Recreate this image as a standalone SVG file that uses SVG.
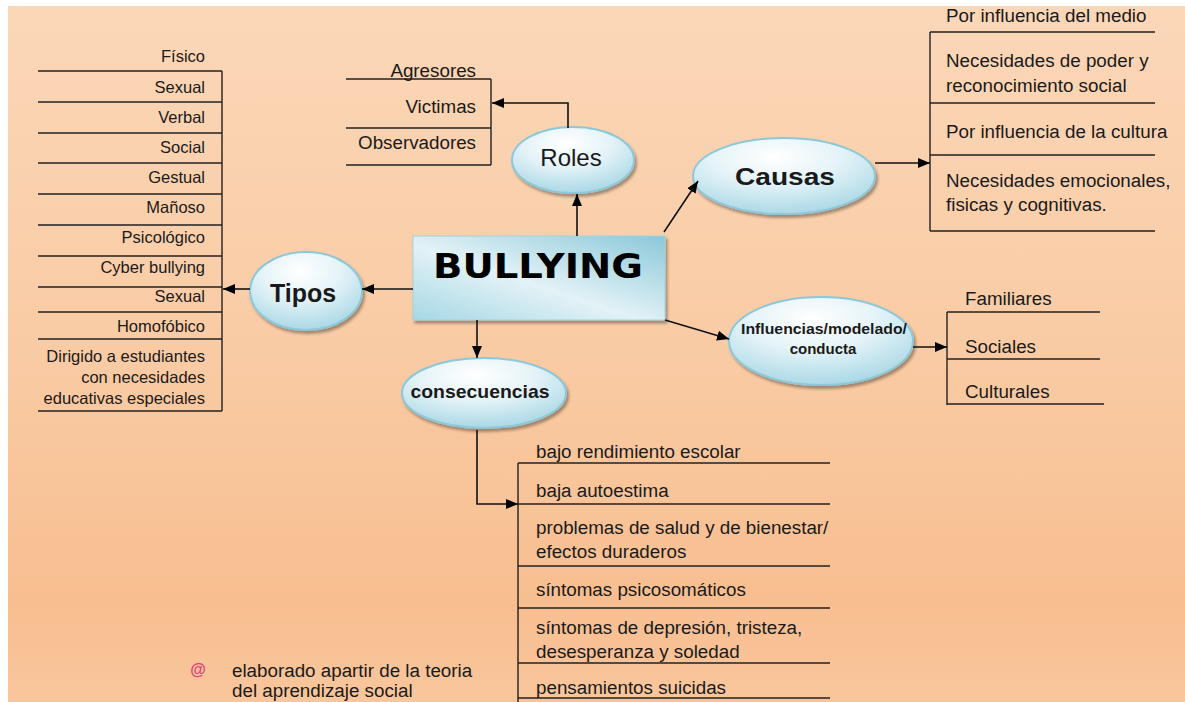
<svg xmlns="http://www.w3.org/2000/svg" width="1185" height="702" viewBox="0 0 1185 702">
<defs>
<linearGradient id="bg" x1="0" y1="0" x2="0" y2="1">
<stop offset="0" stop-color="#FBD7B8"/>
<stop offset="0.5" stop-color="#F9CBA4"/>
<stop offset="0.86" stop-color="#F8BE90"/>
<stop offset="1" stop-color="#F9C69C"/>
</linearGradient>
<radialGradient id="ell" cx="0.45" cy="0.25" r="0.8">
<stop offset="0" stop-color="#FFFFFF"/>
<stop offset="0.45" stop-color="#E4F3F8"/>
<stop offset="1" stop-color="#A3D5E3"/>
</radialGradient>
<linearGradient id="box" x1="1" y1="0" x2="0" y2="1">
<stop offset="0" stop-color="#8BC8D9"/>
<stop offset="0.55" stop-color="#E3F2F6"/>
<stop offset="1" stop-color="#A6D8E5"/>
</linearGradient>
<filter id="sh" x="-20%" y="-20%" width="150%" height="160%">
<feGaussianBlur in="SourceAlpha" stdDeviation="1.5"/>
<feOffset dx="2" dy="3" result="o"/>
<feComponentTransfer><feFuncA type="linear" slope="0.35"/></feComponentTransfer>
<feMerge><feMergeNode/><feMergeNode in="SourceGraphic"/></feMerge>
</filter>
<marker id="arr" viewBox="0 0 12 10" refX="12" refY="5" markerWidth="12" markerHeight="10" orient="auto" markerUnits="userSpaceOnUse">
<path d="M0,0 L12,5 L0,10 z" fill="#000"/>
</marker>
</defs>
<style>
text{font-family:"Liberation Sans",Arial,sans-serif;fill:#1a1a1a}
.l{font-size:16.5px;text-anchor:end}
.r{font-size:18.8px}
.re{font-size:18.8px;text-anchor:end}
.b{font-weight:bold;text-anchor:middle}
.ln{stroke:#222;stroke-width:1.4;fill:none}
.el{fill:url(#ell);stroke:#8CC8D9;stroke-width:2;filter:url(#sh)}
.cn{stroke:#111;stroke-width:1.6;fill:none;marker-end:url(#arr)}
</style>
<rect x="0" y="0" width="1185" height="702" fill="#fff"/>
<rect x="8" y="6" width="1177" height="696" fill="url(#bg)"/>

<g id="center">
<rect x="413" y="236" width="252" height="84" fill="url(#box)" stroke="#9FD2E0" stroke-width="1" filter="url(#sh)"/>
<text x="538" y="278" style="font-family:'DejaVu Sans',sans-serif;font-weight:bold;font-size:34px;fill:#000" text-anchor="middle" textLength="210" lengthAdjust="spacingAndGlyphs">BULLYING</text>
</g>

<g id="tipos">
<ellipse class="el" cx="306" cy="291" rx="56" ry="39"/>
<text class="b" x="303" y="302" style="font-size:25px">Tipos</text>
</g>

<g id="tipos-list">
<path class="ln" d="M222,71 V411 M38,71 H222 M38,102 H222 M38,133 H222 M38,163 H222 M38,194 H222 M38,225 H222 M38,256 H222 M38,287 H222 M38,312 H222 M38,339 H222 M38,411 H222"/>
<text class="l" x="205" y="62">Físico</text>
<text class="l" x="205" y="93">Sexual</text>
<text class="l" x="205" y="123">Verbal</text>
<text class="l" x="205" y="153">Social</text>
<text class="l" x="205" y="183">Gestual</text>
<text class="l" x="205" y="213">Mañoso</text>
<text class="l" x="205" y="243">Psicológico</text>
<text class="l" x="205" y="273">Cyber bullying</text>
<text class="l" x="205" y="302">Sexual</text>
<text class="l" x="205" y="332">Homofóbico</text>
<text class="l" x="205" y="362">Dirigido a estudiantes</text>
<text class="l" x="205" y="383">con necesidades</text>
<text class="l" x="205" y="404">educativas especiales</text>
</g>

<g id="roles">
<ellipse class="el" cx="573" cy="160" rx="61" ry="33"/>
<text x="571" y="166" text-anchor="middle" style="font-size:24px">Roles</text>
</g>

<g id="roles-list">
<path class="ln" d="M491,79 V165 M346,79 H491 M346,128 H491 M346,165 H491"/>
<text class="re" x="476" y="77">Agresores</text>
<text class="re" x="476" y="113">Victimas</text>
<text class="re" x="476" y="149">Observadores</text>
</g>

<g id="causas">
<ellipse class="el" cx="784" cy="176" rx="91" ry="38"/>
<text class="b" x="785" y="185" style="font-size:24px" textLength="100" lengthAdjust="spacingAndGlyphs">Causas</text>
</g>

<g id="causas-list">
<path class="ln" d="M930,32 V231 M930,32 H1155 M930,103 H1155 M930,155 H1155 M930,231 H1155"/>
<text class="r" x="946" y="22">Por influencia del medio</text>
<text class="r" x="946" y="67">Necesidades de poder y</text>
<text class="r" x="946" y="92">reconocimiento social</text>
<text class="r" x="946" y="138">Por influencia de la cultura</text>
<text class="r" x="946" y="187">Necesidades emocionales,</text>
<text class="r" x="946" y="211">fisicas y cognitivas.</text>
</g>

<g id="influencias">
<ellipse class="el" cx="821" cy="341" rx="92" ry="44"/>
<text class="b" x="824" y="334" style="font-size:15px" textLength="166" lengthAdjust="spacingAndGlyphs">Influencias/modelado/</text>
<text class="b" x="823" y="354" style="font-size:15px">conducta</text>
</g>

<g id="influencias-list">
<path class="ln" d="M947,312 V405 M947,312 H1100 M947,359 H1100 M947,404 H1104"/>
<text class="r" x="965" y="305">Familiares</text>
<text class="r" x="965" y="353">Sociales</text>
<text class="r" x="965" y="398">Culturales</text>
</g>

<g id="consecuencias">
<ellipse class="el" cx="484" cy="393" rx="82" ry="35"/>
<text class="b" x="480" y="398" style="font-size:18.5px" textLength="139" lengthAdjust="spacingAndGlyphs">consecuencias</text>
</g>

<g id="consecuencias-list">
<path class="ln" d="M518,463 V702 M518,463 H830 M518,504 H830 M518,566 H830 M518,608 H830 M518,663 H830 M518,698 H830"/>
<text class="r" x="536" y="458">bajo rendimiento escolar</text>
<text class="r" x="536" y="497">baja autoestima</text>
<text class="r" x="536" y="534">problemas de salud y de bienestar/</text>
<text class="r" x="536" y="558">efectos duraderos</text>
<text class="r" x="536" y="596">síntomas psicosomáticos</text>
<text class="r" x="536" y="634">síntomas de depresión, tristeza,</text>
<text class="r" x="536" y="658">desesperanza y soledad</text>
<text class="r" x="536" y="694">pensamientos suicidas</text>
</g>

<g id="nota">
<text x="198" y="675" text-anchor="middle" style="font-size:16px;fill:#E0407A;font-weight:bold">@</text>
<text class="r" x="232" y="677">elaborado apartir de la teoria</text>
<text class="r" x="232" y="697">del aprendizaje social</text>
</g>

<g id="connectors">
<line class="cn" x1="413" y1="289" x2="362" y2="289"/>
<line class="cn" x1="250" y1="289" x2="223" y2="289"/>
<line class="cn" x1="577" y1="236" x2="577" y2="194"/>
<polyline class="cn" points="568,128 568,103 492,103"/>
<line class="cn" x1="664" y1="232" x2="698" y2="181"/>
<line class="cn" x1="875" y1="163" x2="930" y2="163"/>
<line class="cn" x1="665" y1="320" x2="729" y2="339"/>
<line class="cn" x1="913" y1="347" x2="947" y2="347"/>
<line class="cn" x1="477" y1="320" x2="477" y2="358"/>
<polyline class="cn" points="477,430 477,504 518,504"/>
</g>
</svg>
